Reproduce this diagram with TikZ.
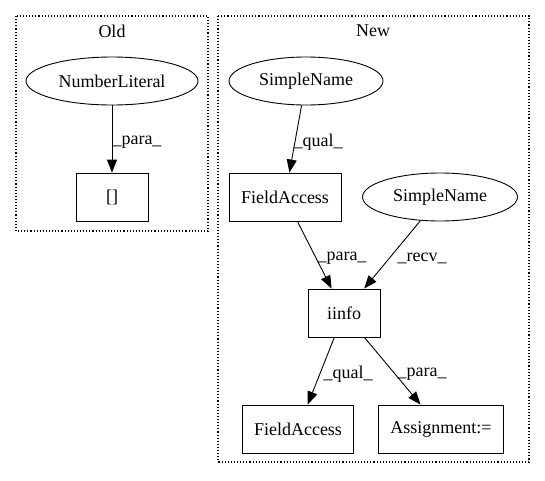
\documentclass[tikz,border=0pt]{standalone}
\usepackage{fontspec}
\setmainfont{Liberation Serif}
\usetikzlibrary{arrows, arrows.meta}
\usetikzlibrary{shapes.geometric}

\begin{document}
\begin{tikzpicture}[x=1pt, y=-1pt, font=\fontsize{18}{21}\selectfont, line width=0.9pt,
    box/.style={rectangle, draw, inner sep=0pt, minimum height=48pt},
    oval/.style={ellipse, draw, inner sep=0pt, minimum height=48pt},
    edge/.style={-{Triangle[length=13pt, width=10pt]}},
    lbl/.style={inner sep=0pt}]
    \useasboundingbox (0,0) rectangle (545,480);

    % clusters
    \draw[dotted, line width=1.1pt] (16,16) rectangle (208,231);
    \draw[dotted, line width=1.1pt] (218,16) rectangle (529,462);
    \node (old) at (112,31) {Old};
    \node (new) at (373,31) {New};

    \node[oval, minimum width=172pt] (numlit) at (112,81) {NumberLiteral};
    \node[box, minimum width=72pt] (arr) at (112,197) {[]};

    \node[oval, minimum width=154pt] (sn1) at (306,81) {SimpleName};
    \node[box, minimum width=112pt] (fa1) at (285,197) {FieldAccess};
    \node[oval, minimum width=155pt] (sn2) at (440,197) {SimpleName};
    \node[box, minimum width=72pt] (iinfo) at (344,313) {iinfo};
    \node[box, minimum width=111pt] (fa2) at (298,429) {FieldAccess};
    \node[box, minimum width=125pt] (assign) at (441,429) {Assignment:=};

    \draw[edge] (numlit) -- (arr);
    \draw[edge] (sn1) -- (fa1);
    \draw[edge] (fa1) -- (iinfo);
    \draw[edge] (sn2) -- (iinfo);
    \draw[edge] (iinfo) -- (fa2);
    \draw[edge] (iinfo) -- (assign);

    \node[lbl] (l1) at (137,142) {\_para\_};
    \node[lbl] (l2) at (318,142) {\_qual\_};
    \node[lbl] (l3) at (342,258) {\_para\_};
    \node[lbl] (l4) at (422,258) {\_recv\_};
    \node[lbl] (l5) at (348,374) {\_qual\_};
    \node[lbl] (l6) at (422,374) {\_para\_};
  \end{tikzpicture}
\end{document}
